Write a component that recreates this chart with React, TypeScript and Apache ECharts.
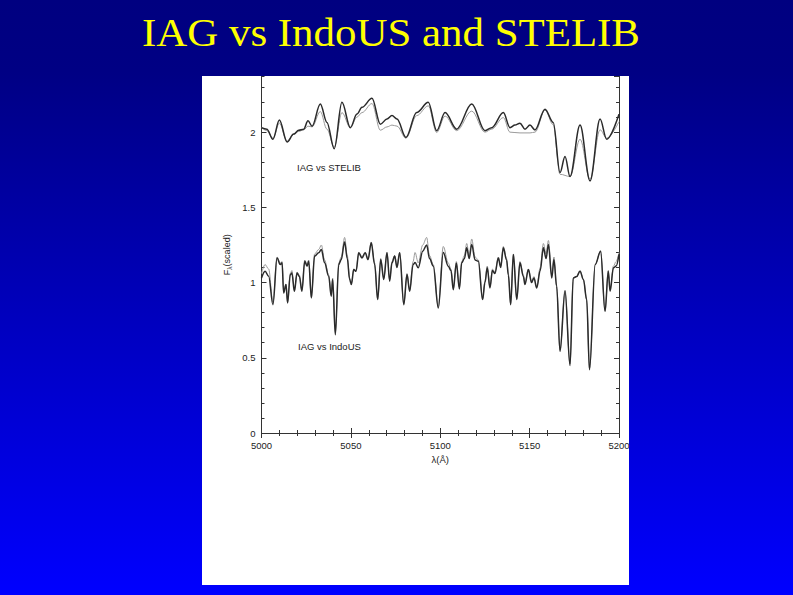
import React, { useEffect, useRef } from "react";
import * as echarts from "echarts";

// Upper pair (offset ~2): IAG (dark) vs STELIB (grey)
const iagTop: [number, number][] = [
  [5000, 2.03], [5003, 2.02], [5006.4, 1.953], [5010, 2.08], [5014.3, 1.935], [5018, 1.987],
  [5020.8, 2.013], [5023.6, 2.02], [5026, 2.075], [5028.3, 2.04], [5032.9, 2.187], [5036.6, 2.065],
  [5040.7, 1.89], [5045, 2.198], [5049.7, 2.03], [5053.4, 2.12], [5056.2, 2.165], [5061.8, 2.225],
  [5066.5, 2.053], [5070.2, 2.087], [5073, 2.11], [5075.8, 2.087], [5080.8, 1.965], [5086.8, 2.13],
  [5093.3, 2.198], [5098, 2.01], [5102.7, 2.13], [5109.2, 2.02], [5117.6, 2.187], [5125, 2.01],
  [5128.8, 2.03], [5135.3, 2.13], [5139, 2.03], [5141.8, 2.047], [5144.6, 2.06], [5147.4, 2.02],
  [5150.2, 2.047], [5153, 2.015], [5158.6, 2.153], [5163.2, 2.065], [5167, 1.731], [5169.8, 1.838],
  [5172.6, 1.705], [5178.2, 2.047], [5183.8, 1.676], [5189.4, 2.087], [5193.1, 1.953], [5200, 2.12],
];
const stelibTop: [number, number][] = [
  [5000, 2.03], [5003, 2.01], [5006.4, 1.96], [5010, 2.06], [5014.3, 1.94], [5018, 1.985],
  [5020.8, 2.005], [5023.6, 2.015], [5026, 2.04], [5028.3, 2.035], [5032.9, 2.137], [5036.6, 2.02],
  [5040.7, 1.9], [5045, 2.13], [5049.7, 2.03], [5053.4, 2.1], [5056.2, 2.13], [5061.8, 2.19],
  [5066.5, 2.013], [5070.2, 2.035], [5073, 2.047], [5075.8, 2.04], [5080.8, 1.96], [5086.8, 2.11],
  [5093.3, 2.175], [5098, 1.998], [5102.7, 2.107], [5109.2, 2.01], [5117.6, 2.14], [5125, 2.0],
  [5128.8, 2.02], [5135.3, 2.097], [5139, 2.0], [5144.6, 1.995], [5150.2, 1.995], [5153, 2.0],
  [5158.6, 2.147], [5163.2, 2.05], [5167, 1.72], [5172.6, 1.705], [5178.2, 1.953], [5183.8, 1.687],
  [5189.4, 2.016], [5193.1, 1.96], [5200, 2.07],
];

// Lower pair (offset ~1): IAG (dark) vs IndoUS (grey)
const iagLow: [number, number][] = [
  [5000, 1.03], [5002, 1.076], [5004, 1.042], [5006.4, 0.853], [5008.7, 1.164], [5010.5, 1.12],
  [5011.5, 1.131], [5012.4, 0.931], [5013.7, 0.987], [5014.6, 0.864], [5016.1, 1.053], [5017, 1.064],
  [5018.4, 0.942], [5019.9, 1.064], [5021.2, 1.04], [5022.6, 0.942], [5024.2, 1.142], [5025.5, 1.109],
  [5026.4, 1.142], [5027.9, 0.898], [5029.7, 1.176], [5032, 1.198], [5033.5, 1.22], [5035.3, 1.131],
  [5037.6, 1.042], [5039, 0.909], [5039.8, 1.02], [5041.3, 0.653], [5043.2, 1.12], [5044.6, 1.153],
  [5046.5, 1.27], [5048, 1.16], [5049.3, 1.02], [5050.3, 0.987], [5051.6, 1.087], [5052.9, 1.075],
  [5054.4, 1.198], [5056.2, 1.164], [5058, 1.198], [5059.6, 1.153], [5061.4, 1.264], [5063.3, 1.12],
  [5065, 0.887], [5066.7, 1.153], [5068.4, 1.02], [5070.2, 1.198], [5071.7, 1.009], [5073, 1.131],
  [5074.5, 1.176], [5075.8, 1.1], [5077.3, 1.198], [5079.6, 0.853], [5081.4, 1.053], [5082.9, 0.942],
  [5084.8, 1.12], [5085.9, 1.133], [5087.7, 1.098], [5090.2, 1.209], [5092.4, 1.25], [5094, 1.16],
  [5096.1, 1.109], [5098.9, 0.831], [5101.7, 1.2], [5104.5, 1.109], [5106, 1.08], [5107.3, 0.953],
  [5109, 1.13], [5110.7, 0.958], [5112, 1.131], [5113.5, 1.16], [5114.8, 1.231], [5116.2, 1.16],
  [5117.6, 1.253], [5119.5, 1.15], [5121.3, 1.142], [5123.7, 0.887], [5125, 1.0], [5126.3, 1.098],
  [5127.8, 0.964], [5129.2, 1.08], [5130.6, 1.06], [5132.5, 1.164], [5133.8, 1.1], [5135.3, 1.231],
  [5137.1, 1.15], [5138.1, 1.05], [5139.4, 0.853], [5140.9, 1.187], [5142.8, 0.887], [5144.6, 1.131],
  [5146.5, 1.04], [5147.4, 0.987], [5149.3, 1.087], [5151.1, 1.0], [5152.4, 1.03], [5154, 0.964],
  [5155.9, 1.08], [5157.7, 1.231], [5159.2, 1.16], [5160.5, 1.253], [5162.4, 1.03], [5163.6, 1.153],
  [5165.1, 0.976], [5167, 0.542], [5169.8, 0.942], [5172.6, 0.449], [5174.4, 1.031], [5176.3, 1.04],
  [5178.2, 1.076], [5180.1, 1.02], [5181.9, 0.887], [5183.5, 0.42], [5186.7, 1.12], [5189.7, 1.209],
  [5192.2, 0.809], [5194, 1.076], [5195, 0.942], [5196.9, 1.098], [5198.4, 1.11], [5200, 1.187],
];
const indoLow: [number, number][] = [
  [5000, 1.06], [5002, 1.12], [5004, 1.09], [5006.4, 0.87], [5008.7, 1.17], [5010.5, 1.13],
  [5011.5, 1.14], [5012.4, 0.94], [5013.7, 0.99], [5014.6, 0.87], [5016.1, 1.06], [5017, 1.08],
  [5018.4, 0.95], [5019.9, 1.07], [5021.2, 1.05], [5022.6, 0.95], [5024.2, 1.15], [5025.5, 1.12],
  [5026.4, 1.15], [5027.9, 0.9], [5029.7, 1.19], [5032, 1.22], [5033.5, 1.25], [5035.3, 1.15],
  [5037.6, 1.05], [5039, 0.92], [5039.8, 1.03], [5041.3, 0.67], [5043.2, 1.13], [5044.6, 1.17],
  [5046.5, 1.3], [5048, 1.18], [5049.3, 1.03], [5050.3, 1.0], [5051.6, 1.09], [5052.9, 1.08],
  [5054.4, 1.2], [5056.2, 1.17], [5058, 1.2], [5059.6, 1.16], [5061.4, 1.27], [5063.3, 1.13],
  [5065, 0.89], [5066.7, 1.16], [5068.4, 1.03], [5070.2, 1.2], [5071.7, 1.02], [5073, 1.14],
  [5074.5, 1.18], [5075.8, 1.11], [5077.3, 1.2], [5079.6, 0.86], [5081.4, 1.06], [5082.9, 0.95],
  [5084.8, 1.14], [5085.9, 1.2], [5087.7, 1.13], [5090.2, 1.25], [5092.4, 1.3], [5094, 1.18],
  [5096.1, 1.12], [5098.9, 0.84], [5101.7, 1.24], [5104.5, 1.13], [5106, 1.09], [5107.3, 0.96],
  [5109, 1.14], [5110.7, 0.97], [5112, 1.14], [5113.5, 1.18], [5114.8, 1.26], [5116.2, 1.18],
  [5117.6, 1.29], [5119.5, 1.17], [5121.3, 1.15], [5123.7, 0.89], [5125, 1.01], [5126.3, 1.11],
  [5127.8, 0.97], [5129.2, 1.09], [5130.6, 1.07], [5132.5, 1.17], [5133.8, 1.11], [5135.3, 1.24],
  [5137.1, 1.16], [5138.1, 1.06], [5139.4, 0.86], [5140.9, 1.19], [5142.8, 0.89], [5144.6, 1.14],
  [5146.5, 1.05], [5147.4, 1.0], [5149.3, 1.09], [5151.1, 1.01], [5152.4, 1.04], [5154, 0.97],
  [5155.9, 1.1], [5157.7, 1.26], [5159.2, 1.19], [5160.5, 1.28], [5162.4, 1.05], [5163.6, 1.17],
  [5165.1, 0.98], [5167, 0.55], [5169.8, 0.95], [5172.6, 0.46], [5174.4, 1.03], [5176.3, 1.04],
  [5178.2, 1.08], [5180.1, 1.02], [5181.9, 0.89], [5183.5, 0.43], [5186.7, 1.12], [5189.7, 1.21],
  [5192.2, 0.81], [5194, 1.08], [5195, 0.95], [5196.9, 1.11], [5198.4, 1.14], [5200, 1.2],
];

const titleText = "IAG vs IndoUS and STELIB";
const labelTop = "IAG vs STELIB";
const labelLow = "IAG vs IndoUS";
const xMin = 5000;
const xMax = 5200;
const yMin = 0;
const yMax = 2.37;

export default function App() {
  const ref = useRef<HTMLDivElement>(null);
  useEffect(() => {
    if (!ref.current) return;
    const chart = echarts.init(ref.current, undefined, { renderer: "svg" });
    const axisColor = "#333";
    const labelFont = { fontFamily: "Liberation Sans", fontSize: 9.5, color: "#222" };
    const yBase = (pos: string, interval: number, len: number, labels: boolean, name?: string) => ({
      type: "value",
      position: pos,
      min: yMin,
      max: yMax,
      interval,
      axisLine: { show: true, lineStyle: { color: axisColor, width: 1 } },
      axisTick: { show: true, inside: true, length: len, lineStyle: { color: axisColor, width: 1 } },
      axisLabel: labels
        ? { show: true, margin: 6, showMaxLabel: false, formatter: (v: number) => String(v), ...labelFont }
        : { show: false },
      splitLine: { show: false },
      name: name,
      nameLocation: "middle",
      nameRotate: 90,
      nameGap: 29,
      nameTextStyle: {
        rich: {
          a: { fontFamily: "Liberation Sans", fontSize: 9, color: "#222" },
          b: { fontFamily: "Liberation Sans", fontSize: 6.5, color: "#222", verticalAlign: "bottom", padding: [4, 0, 0, 0] },
        },
      },
    });
    const xBase = (pos: string, labels: boolean, name?: string) => ({
      type: "value",
      position: pos,
      min: xMin,
      max: xMax,
      interval: 50,
      axisLine: { show: true, lineStyle: { color: axisColor, width: 1 } },
      axisTick: { show: true, inside: true, length: 5, lineStyle: { color: axisColor, width: 1 } },
      minorTick: { show: true, splitNumber: 5, length: 3, lineStyle: { color: axisColor, width: 1 } },
      axisLabel: labels
        ? { show: true, margin: 7, formatter: (v: number) => String(v), ...labelFont }
        : { show: false },
      splitLine: { show: false },
      minorSplitLine: { show: false },
      name: name,
      nameLocation: "middle",
      nameGap: 19,
      nameTextStyle: { fontFamily: "Liberation Sans", fontSize: 9.5, color: "#222" },
    });
    const lineSeries = (data: [number, number][], color: string, width: number, z: number) => ({
      type: "line",
      data,
      xAxisIndex: 0,
      yAxisIndex: 0,
      showSymbol: false,
      symbol: "none",
      smooth: 0.35,
      smoothMonotone: "x",
      lineStyle: { color, width },
      z,
    });
    chart.setOption({
      animation: false,
      backgroundColor: {
        type: "linear",
        x: 0,
        y: 0,
        x2: 0,
        y2: 1,
        colorStops: [
          { offset: 0, color: "#000080" },
          { offset: 0.12, color: "#000084" },
          { offset: 1, color: "#0000ff" },
        ],
      },
      grid: { left: 261.5, top: 76.5, width: 357.5, height: 356.5, containLabel: false },
      xAxis: [xBase("bottom", true, "λ(Å)"), xBase("top", false)],
      yAxis: [
        yBase("left", 0.5, 5, true, "{a|F}{b|λ}{a|(scaled)}"),
        yBase("left", 0.1, 3, false),
        yBase("right", 0.5, 5, false),
        yBase("right", 0.1, 3, false),
      ],
      graphic: [
        {
          type: "rect",
          z: -10,
          shape: { x: 202, y: 76, width: 427, height: 509 },
          style: { fill: "#ffffff" },
        },
        {
          type: "text",
          x: 391,
          y: 33,
          scaleX: 1.1,
          style: {
            text: titleText,
            fill: "#ffff00",
            fontFamily: "Liberation Serif",
            fontSize: 39,
            align: "center",
            verticalAlign: "middle",
          },
        },
        {
          type: "text",
          x: 297,
          y: 167,
          z: 10,
          style: { text: labelTop, fill: "#222", fontFamily: "Liberation Sans", fontSize: 9.5, align: "left", verticalAlign: "middle" },
        },
        {
          type: "text",
          x: 298,
          y: 346,
          z: 10,
          style: { text: labelLow, fill: "#222", fontFamily: "Liberation Sans", fontSize: 9.5, align: "left", verticalAlign: "middle" },
        },
      ],
      series: [
        lineSeries(stelibTop, "#9a9a9a", 1, 2),
        lineSeries(indoLow, "#9a9a9a", 1, 2),
        lineSeries(iagTop, "#2a2a2a", 1.5, 3),
        lineSeries(iagLow, "#2a2a2a", 1.5, 3),
      ],
    });
    return () => chart.dispose();
  }, []);
  return (
    <div
      ref={ref}
      style={{ position: "absolute", left: 0, top: 0, width: 793, height: 595 }}
    />
  );
}
